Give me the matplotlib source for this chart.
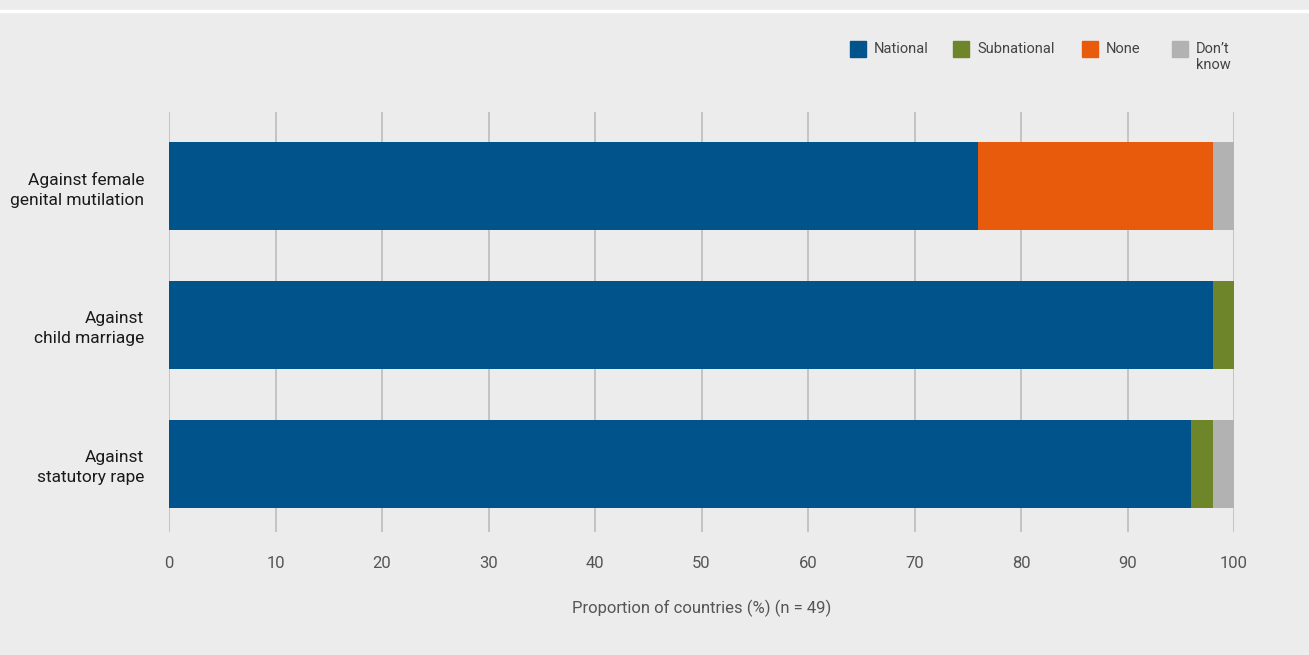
import matplotlib.pyplot as plt
from matplotlib.patches import Rectangle
import numpy as np

plt.rcParams['font.family'] = ['Roboto', 'DejaVu Sans']

# Data
categories = ["Against female\ngenital mutilation", "Against\nchild marriage", "Against\nstatutory rape"]
series_names = ["National", "Subnational", "None", "Don\u2019t\nknow"]
national = [76, 98, 96]
subnational = [0, 2, 2]
none = [22, 0, 0]
dont_know = [2, 0, 2]
colors = ["#00538B", "#6E8529", "#E95B0C", "#B2B2B2"]
x_ticks = [0, 10, 20, 30, 40, 50, 60, 70, 80, 90, 100]

bg = "#ECECEC"
fig = plt.figure(figsize=(13.09, 6.55), dpi=100, facecolor=bg)
ax = fig.add_axes([169/1309, 1 - 532/655, (1234 - 169)/1309, (532 - 112)/655])
ax.set_facecolor(bg)

# white rule at the top
fig.add_artist(plt.Line2D([0, 1], [1 - 10.5/655, 1 - 10.5/655], color="white", lw=2.5))

y = np.arange(len(categories))
left = np.zeros(len(categories))
for vals, c in zip([national, subnational, none, dont_know], colors):
    ax.barh(y, vals, left=left, height=0.63, color=c, zorder=3)
    left += np.array(vals)

ax.set_xlim(0, 100)
ax.set_ylim(2.49, -0.53)
ax.set_xticks(x_ticks)
ax.set_yticks(y)
ax.set_yticklabels(categories, fontsize=12.5, color="#1A1A1A", linespacing=1.4)
ax.tick_params(axis="y", length=0, pad=18)
ax.tick_params(axis="x", length=0, pad=17, labelsize=12, labelcolor="#555555")
ax.grid(axis="x", color="#BDBDBD", lw=1.2, zorder=1)
for s in ax.spines.values():
    s.set_visible(False)
ax.set_xlabel("Proportion of countries (%) (n = 49)", fontsize=12, color="#555555", labelpad=21)

# legend
leg_x = [850, 953, 1082, 1172]
for name, c, lx in zip(series_names, colors, leg_x):
    fig.add_artist(Rectangle((lx/1309, 1 - 57/655), 16/1309, 16/655, color=c,
                             transform=fig.transFigure))
    fig.text((lx + 24)/1309, 1 - 42/655, name, fontsize=10.5, color="#444444",
             va="top", ha="left", linespacing=1.15)

fig.savefig("out.png", dpi=100, facecolor=bg)
